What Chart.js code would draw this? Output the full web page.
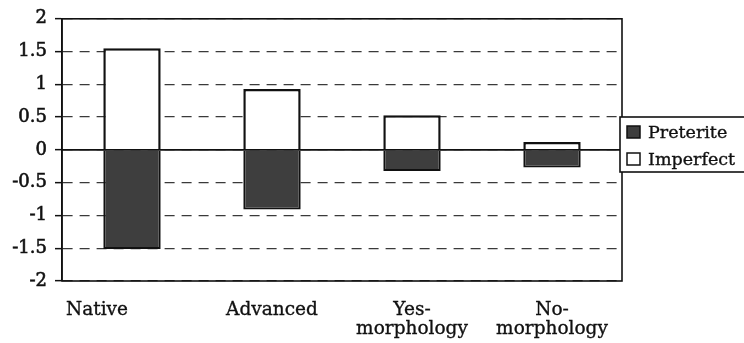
<!DOCTYPE html>
<html>
<head>
<meta charset="utf-8">
<script src="https://cdn.jsdelivr.net/npm/chart.js@4/dist/chart.umd.min.js"></script>
<style>
  html, body { margin: 0; padding: 0; background: #fff; }
  #wrap { width: 744px; height: 343px; position: relative; }
</style>
</head>
<body>
<div id="wrap"><canvas id="c" width="744" height="343"></canvas></div>
<script>
// Learner groups along the x axis
const groups = [["Native"], ["Advanced"], ["Yes-", "morphology"], ["No-", "morphology"]];
// Mean scores per group (preterite below zero, imperfect above)
const preterite = [-1.51, -0.91, -0.32, -0.27];
const imperfect = [1.55, 0.93, 0.53, 0.12];
// Value axis
const yMin = -2, yMax = 2, yStep = 0.5;

const INK = '#111';
const PRET_FILL = '#3e3e3e';
const SERIF = '"DejaVu Serif", serif';
// horizontal nudge of each category caption, in px
const captionNudge = [-35, 0, 0, 0];

function inkText(ctx, text, x, y) {
  ctx.fillText(text, x, y);
  ctx.strokeText(text, x, y);
}

// Solid zero line and the frame around the plot area
const framePlugin = {
  id: 'frame',
  afterDatasetsDraw(chart) {
    const { ctx, chartArea: a, scales: { y } } = chart;
    const y0 = y.getPixelForValue(0);
    ctx.save();
    ctx.strokeStyle = INK;
    ctx.lineWidth = 1.6;
    ctx.beginPath();
    ctx.moveTo(a.left, y0);
    ctx.lineTo(a.right, y0);
    ctx.stroke();
    ctx.strokeRect(a.left, a.top, a.right - a.left, a.bottom - a.top);
    ctx.restore();
  }
};

// Category captions under the plot, placed from the x scale
const captions = {
  id: 'captions',
  afterDraw(chart) {
    const { ctx, chartArea: a, scales: { x } } = chart;
    ctx.save();
    ctx.font = '18.5px ' + SERIF;
    ctx.fillStyle = INK;
    ctx.strokeStyle = INK;
    ctx.lineWidth = 0.35;
    ctx.textAlign = 'center';
    ctx.textBaseline = 'alphabetic';
    chart.data.labels.forEach((lines, i) => {
      const cx = x.getPixelForValue(i) + captionNudge[i];
      lines.forEach((t, k) => inkText(ctx, t, cx, a.bottom + 34 + k * 19));
    });
    ctx.restore();
  }
};

// Boxed legend sitting on the right edge of the plot
const legendBox = {
  id: 'legendBox',
  afterDraw(chart) {
    const { ctx, chartArea: a } = chart;
    const x0 = a.right - 2, y0 = 117, h = 55;
    ctx.save();
    ctx.fillStyle = '#fff';
    ctx.fillRect(x0, y0, chart.width - x0 + 2, h);
    ctx.strokeStyle = INK;
    ctx.lineWidth = 1.6;
    ctx.strokeRect(x0, y0, chart.width - x0 + 4, h);
    ctx.font = '17.5px ' + SERIF;
    ctx.textBaseline = 'alphabetic';
    ctx.textAlign = 'left';
    chart.data.datasets.forEach((ds, i) => {
      const cy = y0 + 15 + i * 27;
      ctx.fillStyle = ds.backgroundColor;
      ctx.fillRect(x0 + 7, cy - 6, 13, 12);
      ctx.strokeStyle = INK;
      ctx.lineWidth = 1.5;
      ctx.strokeRect(x0 + 7, cy - 6, 13, 12);
      ctx.fillStyle = INK;
      ctx.lineWidth = 0.35;
      inkText(ctx, ds.label, x0 + 28, cy + 6);
    });
    ctx.restore();
  }
};

new Chart(document.getElementById('c'), {
  type: 'bar',
  data: {
    labels: groups,
    datasets: [
      {
        label: 'Preterite',
        data: preterite,
        backgroundColor: PRET_FILL,
        borderColor: INK,
        borderWidth: 2,
        borderSkipped: 'start'
      },
      {
        label: 'Imperfect',
        data: imperfect,
        backgroundColor: '#ffffff',
        borderColor: INK,
        borderWidth: 2.5,
        borderSkipped: 'start'
      }
    ]
  },
  options: {
    responsive: false,
    animation: false,
    devicePixelRatio: 1,
    layout: { padding: { top: 16, right: 122, left: 0, bottom: 0 } },
    plugins: { legend: { display: false }, tooltip: { enabled: false } },
    datasets: { bar: { categoryPercentage: 1, barPercentage: 0.41 } },
    scales: {
      x: {
        stacked: true,
        grid: { display: false, drawTicks: false },
        border: { display: false },
        ticks: { display: false },
        afterFit(s) { s.height = 62; }
      },
      y: {
        stacked: true,
        min: yMin,
        max: yMax,
        ticks: {
          stepSize: yStep,
          color: INK,
          padding: 8,
          font: { family: SERIF, size: 18 },
          textStrokeColor: INK,
          textStrokeWidth: 0.6,
          callback: v => String(v)
        },
        grid: {
          color: '#3a3a3a',
          lineWidth: 1.3,
          tickColor: INK,
          tickLength: 7,
          tickWidth: 1.5,
          tickBorderDash: []
        },
        border: { display: true, color: INK, width: 1.6, dash: [10, 7] },
        afterFit(s) { s.width = 62; }
      }
    }
  },
  plugins: [framePlugin, captions, legendBox]
});
</script>
</body>
</html>
